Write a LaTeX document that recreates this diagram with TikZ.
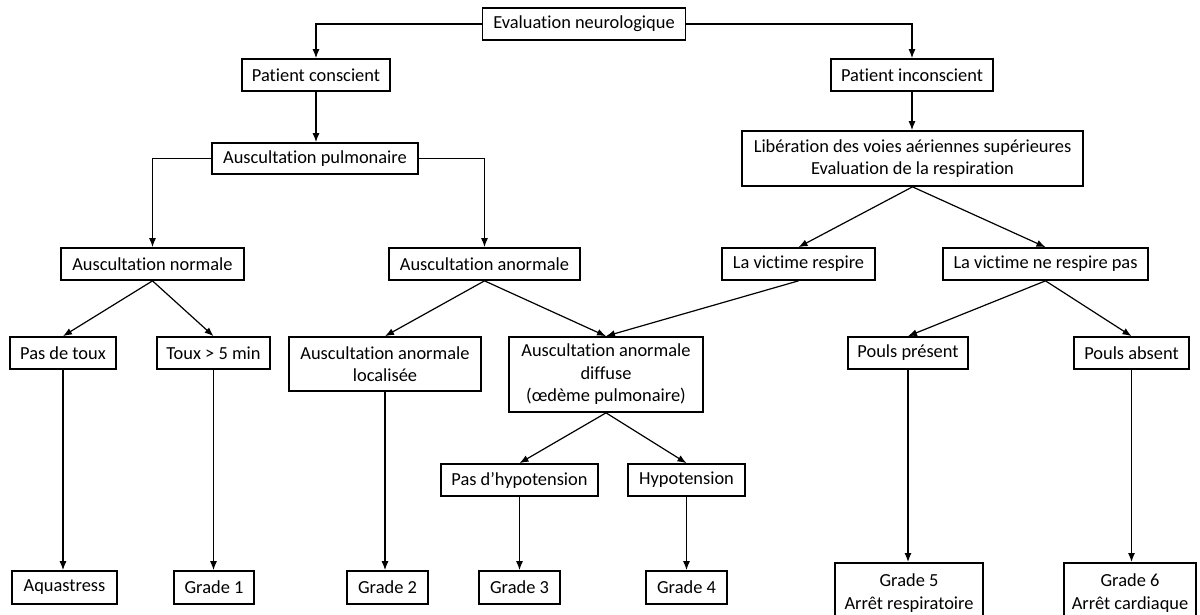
\documentclass[tikz,border=0pt]{standalone}
\usepackage{fontspec}
\setmainfont{Carlito}[Ligatures=NoCommon]
\usetikzlibrary{arrows.meta}
\begin{document}
\begin{tikzpicture}[x=1pt,y=-1pt,
  box/.style={draw, line width=1.7pt, inner sep=0pt, align=center,
    font=\fontsize{18.4}{22.5}\selectfont},
  arr/.style={line width=1.2pt, -{Latex[length=9pt,width=7pt]}}]
\useasboundingbox (0,0) rectangle (1200,614);
\fill[white] (0,0) rectangle (1200,614);
% level 0
\node[box, minimum width=203, minimum height=32] (eval) at (584,24) {Evaluation neurologique};
% level 1
\node[box, minimum width=148, minimum height=32] (pc) at (316,75) {Patient conscient};
\node[box, minimum width=162, minimum height=32] (pi) at (912,75) {Patient inconscient};
% level 2
\node[box, minimum width=206, minimum height=31] (ap) at (315,158.5) {Auscultation pulmonaire};
\node[box, minimum width=341, minimum height=55] (lib) at (912.5,158.5) {Libération des voies aériennes supérieures\\Evaluation de la respiration};
% level 3
\node[box, minimum width=183, minimum height=32] (an) at (152.5,264) {Auscultation normale};
\node[box, minimum width=191, minimum height=32] (aa) at (484.5,264) {Auscultation anormale};
\node[box, minimum width=153, minimum height=32] (lvr) at (798.5,264) {La victime respire};
\node[box, minimum width=205, minimum height=32] (lvn) at (1045.5,264) {La victime ne respire pas};
% level 4
\node[box, minimum width=106, minimum height=32] (pdt) at (63,353) {Pas de toux};
\node[box, minimum width=113, minimum height=32] (toux) at (213.5,353) {Toux > 5 min};
\node[box, minimum width=192, minimum height=54] (aal) at (385,364) {Auscultation anormale\\localisée};
\node[box, minimum width=194, minimum height=75] (aad) at (606,374.5) {Auscultation anormale\\diffuse\\(œdème pulmonaire)};
\node[box, minimum width=120, minimum height=32] (pp) at (908,353) {Pouls présent};
\node[box, minimum width=115, minimum height=32] (pa) at (1131.5,353) {Pouls absent};
% level 5
\node[box, minimum width=157, minimum height=32] (pdh) at (519.5,480) {Pas d’hypotension};
\node[box, minimum width=117, minimum height=32] (hyp) at (686.5,480) {Hypotension};
% level 6
\node[box, minimum width=105, minimum height=33] (aq) at (64.5,587.5) {Aquastress};
\node[box, minimum width=80, minimum height=33] (g1) at (214,587.5) {Grade 1};
\node[box, minimum width=81, minimum height=33] (g2) at (387.5,587.5) {Grade 2};
\node[box, minimum width=81, minimum height=33] (g3) at (519.5,587.5) {Grade 3};
\node[box, minimum width=81, minimum height=33] (g4) at (686.5,587.5) {Grade 4};
\node[box, minimum width=148, minimum height=60, anchor=north] (g5) at (909,562) {Grade 5\\Arrêt respiratoire};
\node[box, minimum width=132, minimum height=60, anchor=north] (g6) at (1130,562) {Grade 6\\Arrêt cardiaque};
% connectors
\draw[arr] (eval.west) -| (pc.north);
\draw[arr] (eval.east) -| (pi.north);
\draw[arr] (pc.south) -- (pc.south |- ap.north);
\draw[arr] (pi.south) -- (pi.south |- lib.north);
\draw[arr] (ap.west) -| (an.north);
\draw[arr] (ap.east) -| (aa.north);
\draw[arr] (lib.south) -- (lvr.north);
\draw[arr] (lib.south) -- (lvn.north);
\draw[arr] (an.south) -- (pdt.north);
\draw[arr] (an.south) -- (toux.north);
\draw[arr] (aa.south) -- (aal.north);
\draw[arr] (aa.south) -- (aad.north);
\draw[arr] (lvr.south) -- (aad.north);
\draw[arr] (lvn.south) -- (pp.north);
\draw[arr] (lvn.south) -- (pa.north);
\draw[arr] (aad.south) -- (pdh.north);
\draw[arr] (aad.south) -- (hyp.north);
\draw[arr] (pdt.south) -- (pdt.south |- aq.north);
\draw[arr] (toux.south) -- (toux.south |- g1.north);
\draw[arr] (aal.south) -- (aal.south |- g2.north);
\draw[arr] (pdh.south) -- (pdh.south |- g3.north);
\draw[arr] (hyp.south) -- (hyp.south |- g4.north);
\draw[arr] (pp.south) -- (pp.south |- g5.north);
\draw[arr] (pa.south) -- (pa.south |- g6.north);
\end{tikzpicture}
\end{document}
